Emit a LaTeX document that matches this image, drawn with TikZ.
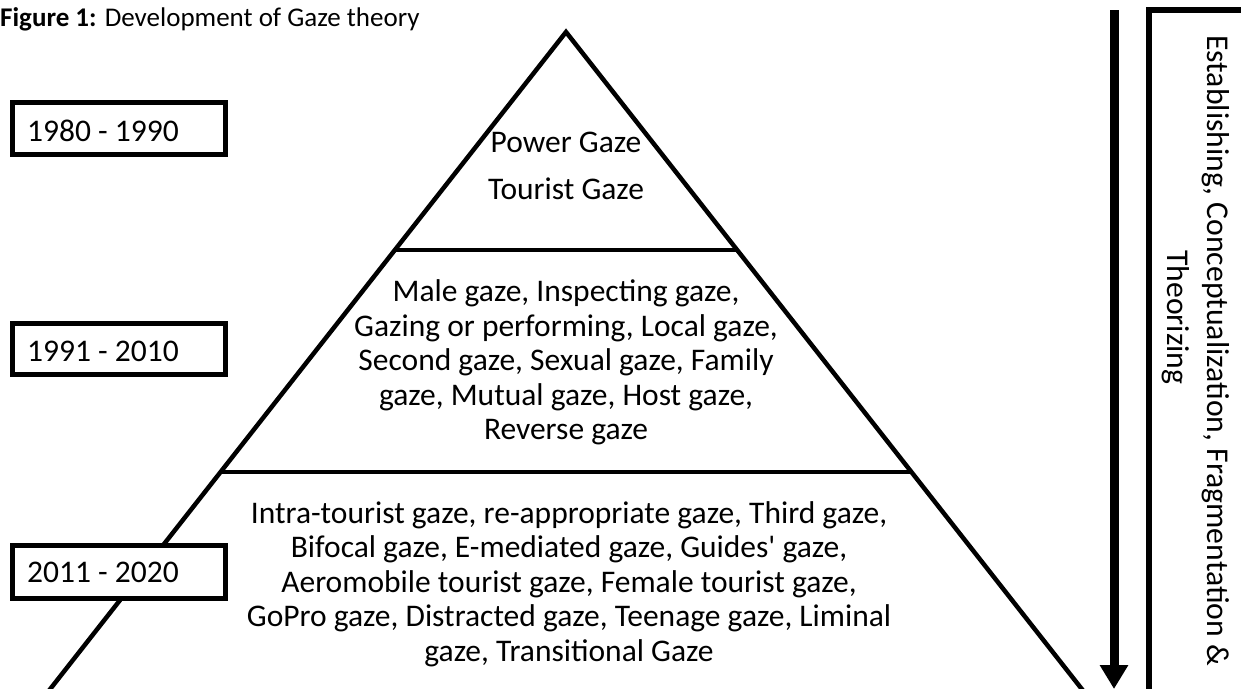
\documentclass[tikz,border=0pt]{standalone}
\usepackage{fontspec}
\setmainfont{Carlito}
\usetikzlibrary{arrows.meta}
\begin{document}
\begin{tikzpicture}[x=1pt,y=-1pt,
  pline/.style={line width=4.5pt,line join=miter},
  yearbox/.style={draw,line width=5pt,fill=white},
  yeartext/.style={anchor=base west,inner sep=0pt,font=\fontsize{31.5}{37}\selectfont},
  gazetext/.style={inner sep=0pt,align=center,font=\fontsize{31.5}{34.5}\selectfont},
  sidetext/.style={rotate=-90,anchor=base west,inner sep=0pt,font=\fontsize{31.7}{38}\selectfont}]
\useasboundingbox (0,0) rectangle (1241,688);
\clip (0,0) rectangle (1241,688);
% pyramid
\coordinate (apex) at (566,32);
\coordinate (bl) at (41.6,700);
\coordinate (br) at (1090.4,700);
\coordinate (l1) at (395,250);
\coordinate (r1) at (737,250);
\coordinate (l2) at (220.6,472);
\coordinate (r2) at (911.4,472);
\draw[pline] (bl) -- (apex) -- (br);
\draw[line width=4pt] (l1) -- (r1);
\draw[line width=4pt] (l2) -- (r2);
% title
\node (title) [anchor=base west,inner sep=0pt,font=\fontsize{27}{32}\selectfont] at (0,27) {\textbf{Figure 1:} Development of Gaze theory};
% year boxes
\draw[yearbox] (12.5,102.5) rectangle (225.5,154.5);
\draw[yearbox] (12.5,323.5) rectangle (225.5,374.5);
\draw[yearbox] (12.5,545.5) rectangle (225.5,598.5);
\node (y1) [yeartext] at (27,141) {1980 - 1990};
\node (y2) [yeartext] at (27,361) {1991 - 2010};
\node (y3) [yeartext] at (27,582) {2011 - 2020};
% pyramid texts
\node (t1a) [gazetext,anchor=base] at (566,152) {Power Gaze};
\node (t1b) [gazetext,anchor=base] at (566,199) {Tourist Gaze};
\node (t2) [gazetext] at (566,362.5) {Male gaze, Inspecting gaze,\\Gazing or performing, Local gaze,\\Second gaze, Sexual gaze, Family\\gaze, Mutual gaze, Host gaze,\\Reverse gaze};
\node (t3) [gazetext] at (569,584) {Intra-tourist gaze, re-appropriate gaze, Third gaze,\\Bifocal gaze, E-mediated gaze, Guides\textquotesingle{} gaze,\\Aeromobile tourist gaze, Female tourist gaze,\\GoPro gaze, Distracted gaze, Teenage gaze, Liminal\\gaze, Transitional Gaze};
% arrow
\coordinate (atop) at (1114,10);
\coordinate (abot) at (1114,689);
\draw[line width=9pt,-{Triangle[width=27pt,length=24pt]}] (atop) -- (abot);
% side box
\draw[line width=5.5pt] (1149,700) -- (1149,10) -- (1260,10);
\node (s1) [sidetext] at (1207,35) {Establishing, Conceptualization, Fragmentation \&};
\node (s2) [sidetext] at (1167,250) {Theorizing};
\end{tikzpicture}
\end{document}
